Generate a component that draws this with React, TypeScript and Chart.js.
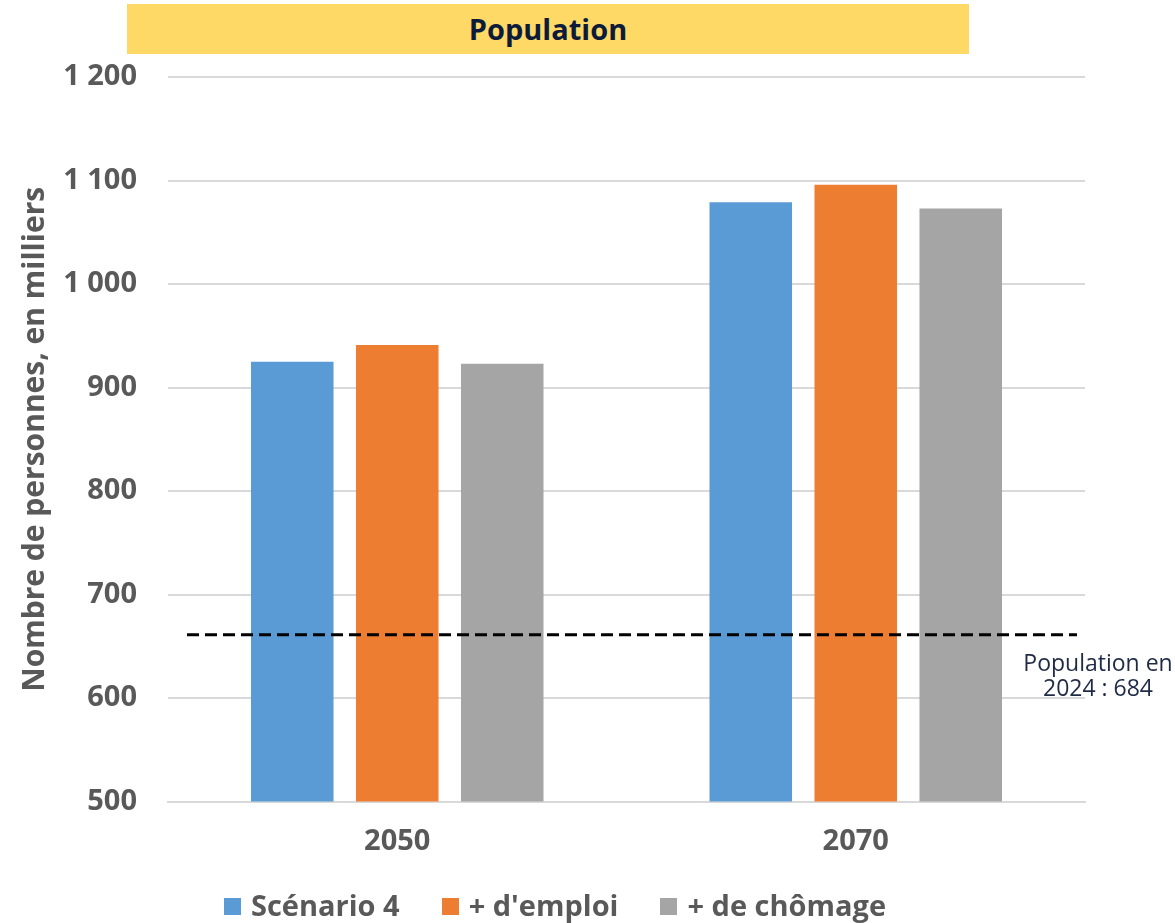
import React, { useEffect, useRef } from "react";
import { Chart, registerables } from "chart.js";

Chart.register(...registerables);

const categories = ["2050", "2070"];
const seriesLabels = ["Scénario 4", "+ d'emploi", "+ de chômage"];
const scenario4 = [925, 1079];
const plusEmploi = [941, 1096];
const plusChomage = [923, 1073];
const seriesColors = ["#5B9BD5", "#ED7D31", "#A5A5A5"];
const yTicks = [500, 600, 700, 800, 900, 1000, 1100, 1200];
const refLineValue = 661;
const refLabelLines = ["Population en", "2024 : 684"];
const chartTitle = "Population";
const yTitle = "Nombre de personnes, en milliers";

const FONT = "'Open Sans', sans-serif";
const GRAY_TEXT = "#595959";

const fmt = (v: number) => {
  const s = String(Math.round(v));
  return s.replace(/\B(?=(\d{3})+(?!\d))/g, " ");
};

const refLinePlugin = {
  id: "refLine",
  afterDatasetsDraw(chart: any) {
    const { ctx, chartArea, scales } = chart;
    const y = scales.y.getPixelForValue(refLineValue);
    ctx.save();
    ctx.strokeStyle = "#000000";
    ctx.lineWidth = 3;
    ctx.setLineDash([12, 6]);
    ctx.beginPath();
    ctx.moveTo(chartArea.left + 19, y);
    ctx.lineTo(chartArea.right - 8, y);
    ctx.stroke();
    ctx.setLineDash([]);
    ctx.fillStyle = "#1F2A44";
    ctx.font = `400 23px ${FONT}`;
    ctx.textAlign = "center";
    ctx.textBaseline = "middle";
    refLabelLines.forEach((t, i) => {
      ctx.fillText(t, chartArea.right + 13, y + 30 + i * 25);
    });
    ctx.restore();
  },
};

export default function App() {
  const canvasRef = useRef<HTMLCanvasElement | null>(null);

  useEffect(() => {
    if (!canvasRef.current) return;
    const data = [scenario4, plusEmploi, plusChomage];
    const chart = new Chart(canvasRef.current, {
      type: "bar",
      data: {
        labels: categories,
        datasets: seriesLabels.map((label, i) => ({
          label,
          data: data[i],
          backgroundColor: seriesColors[i],
          borderWidth: 0,
          categoryPercentage: 0.687,
          barPercentage: 0.786,
        })),
      },
      options: {
        animation: false,
        responsive: false,
        maintainAspectRatio: false,
        layout: { padding: { top: 77, right: 90, bottom: 0, left: 0 } },
        plugins: {
          legend: { display: false },
          tooltip: { enabled: false },
          title: { display: false },
        },
        scales: {
          x: {
            grid: { display: false, drawTicks: false },
            border: { display: true, color: "#D9D9D9", width: 2 },
            ticks: {
              color: GRAY_TEXT,
              font: { family: FONT, size: 29, weight: "bold" },
              padding: 23,
            },
            afterFit(scale: any) {
              scale.height = 121.5;
            },
          },
          y: {
            min: 500,
            max: 1200,
            grid: { color: "#D9D9D9", lineWidth: 2, drawTicks: false },
            border: { display: false },
            afterBuildTicks(scale: any) {
              scale.ticks = yTicks.map((v) => ({ value: v }));
            },
            ticks: {
              color: GRAY_TEXT,
              font: { family: FONT, size: 29, weight: "bold" },
              padding: 31,
              callback: (v: any) => fmt(Number(v)),
            },
            title: {
              display: true,
              text: yTitle,
              color: GRAY_TEXT,
              font: { family: FONT, size: 30, weight: "bold" },
              padding: { top: 17, bottom: 0 },
            },
            afterFit(scale: any) {
              scale.width = 168;
            },
          },
        },
      },
      plugins: [refLinePlugin],
    });
    return () => chart.destroy();
  }, []);

  return (
    <div
      style={{
        position: "fixed",
        left: 0,
        top: 0,
        width: 1175,
        height: 923,
        background: "#ffffff",
        overflow: "hidden",
        fontFamily: FONT,
      }}
    >
      <canvas ref={canvasRef} width={1175} height={923} style={{ position: "absolute", left: 0, top: 0 }} />
      <div
        style={{
          position: "absolute",
          left: 127,
          top: 4,
          width: 842,
          height: 50,
          background: "#FFD966",
          color: "#0D1B3A",
          fontWeight: 700,
          fontSize: 29,
          lineHeight: "50px",
          textAlign: "center",
        }}
      >
        {chartTitle}
      </div>
      <div
        style={{
          position: "absolute",
          left: 0,
          width: 1110,
          top: 886,
          height: 36,
          display: "flex",
          justifyContent: "center",
          alignItems: "center",
          gap: 42,
          color: GRAY_TEXT,
          fontWeight: 700,
          fontSize: 29,
          whiteSpace: "nowrap",
        }}
      >
        {seriesLabels.map((l, i) => (
          <div key={l} style={{ display: "flex", alignItems: "center" }}>
            <span
              style={{
                display: "inline-block",
                width: 17,
                height: 17,
                background: seriesColors[i],
                marginRight: 10,
                marginTop: 4,
              }}
            />
            <span>{l}</span>
          </div>
        ))}
      </div>
    </div>
  );
}
